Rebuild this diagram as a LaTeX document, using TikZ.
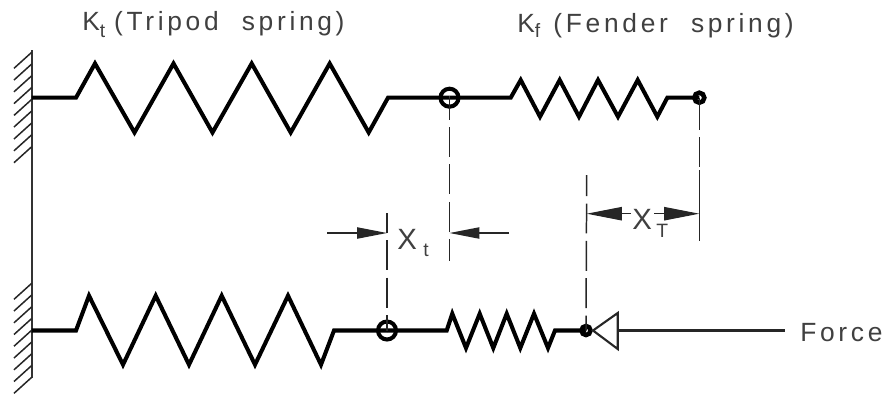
\documentclass[tikz,border=0pt]{standalone}
\usepackage{fontspec}
\setmainfont{Liberation Sans}[LetterSpace=14,WordSpace=2.1]
\usetikzlibrary{arrows.meta}
\tikzset{
	thinline/.style={line width=0.85pt, color=black!85},
	dimline/.style={line width=0.7pt, color=black!85, -{Triangle[length=17pt,width=6.4pt]}},
	bigdimline/.style={line width=0.7pt, color=black!85, -{Triangle[length=20pt,width=7.6pt]}},
	springline/.style={line width=2.3pt, line join=miter},
	dashline/.style={thinline, dash pattern=on 17pt off 4.25pt},
	label/.style={inner sep=0pt, color=black!75, font=\fontsize{15}{15}\selectfont, anchor=base west},
	biglabel/.style={inner sep=0pt, color=black!75, font=\fontsize{16.7}{16.7}\selectfont, anchor=base west},
	sublabel/.style={inner sep=0pt, color=black!75, font=\fontsize{11}{11}\selectfont, anchor=base west}
}
\begin{document}
\begin{tikzpicture}[x=0.02cm, y=-0.02cm]
	%%%%% START %%%%%
	\useasboundingbox (0, 0) rectangle (888, 393);
	
	% wall
	\draw[line width=1.2pt, color=black!80] (31.7, 50) -- (31.7, 378);
	\foreach \ypos in {52.3, 64, 75.8, 87.6, 99.4, 111, 123, 134.8, 146.7} {
		\draw[thinline] (31.7, \ypos) -- (14, \ypos+16);
	}
	\foreach \ypos in {283.3, 295, 306.8, 318.5, 330.2, 342, 353.8, 365.5, 377.3} {
		\draw[thinline] (31.7, \ypos) -- (14, \ypos+16);
	}
	
	% top row
	\coordinate (walltop) at (31.7, 97.7);
	\coordinate (jointtop) at (449.5, 97.7);
	\coordinate (endtop) at (699.3, 97.7);
	\draw[springline] (walltop) -- (76, 97.7) -- (95, 63.5) -- (134.5, 132.5) -- (173.5, 63.5) -- (212.5, 132.5)
		-- (251.7, 63.5) -- (290.7, 132.5) -- (329.7, 63.5) -- (368.7, 132.5) -- (388, 97.7) -- (jointtop);
	\draw[springline] (jointtop) -- (510.7, 97.7) -- (520.7, 80) -- (540, 116.7) -- (559.7, 80) -- (579, 116.7)
		-- (598, 80) -- (618, 116.7) -- (637.7, 80) -- (657.3, 116.7) -- (667.3, 97.7) -- (endtop);
	\draw[springline] (jointtop) circle (9);
	\draw[line width=2.6pt] (endtop) circle (5);
	
	% bottom row
	\coordinate (wallbot) at (31.7, 330.5);
	\coordinate (jointbot) at (387, 330.5);
	\coordinate (endbot) at (586, 330.5);
	\draw[springline] (wallbot) -- (76, 330.5) -- (89, 295.7) -- (123, 364.7) -- (155.7, 295.7) -- (189, 364.7)
		-- (221.7, 295.7) -- (255, 364.7) -- (288, 295.7) -- (321, 364.7) -- (334, 330.5) -- (jointbot);
	\draw[springline] (jointbot) -- (446.7, 330.5) -- (452.3, 313.7) -- (466, 348) -- (479.7, 313.7) -- (493.3, 348)
		-- (506.7, 313.7) -- (520.3, 348) -- (534, 313.7) -- (548, 348) -- (555, 330.5) -- (endbot);
	\draw[springline] (jointbot) circle (9);
	\draw[line width=2.6pt] (endbot) circle (4.5);
	
	% force
	\coordinate (forcetip) at (593, 330.5);
	\coordinate (forceend) at (784.7, 330.5);
	\draw[line width=1.2pt, color=black!85] (forcetip) -- (617.7, 313) -- (617.7, 349) -- cycle;
	\draw[line width=1.2pt, color=black!85] (617.7, 330.5) -- (forceend);
	\node[label] (forcelabel) at (800, 341) {Force};
	
	% extension lines
	\draw[dashline, dash phase=4.5pt] (jointtop) -- (449.5, 261);
	\draw[thinline, dash pattern=on 18.4pt off 4pt on 17pt off 1.7pt on 41pt] (endtop) -- (699.3, 241);
	\draw[dashline, dash phase=5.7pt] (387, 213) -- (jointbot);
	\draw[dashline, dash phase=5pt] (586.7, 175) -- (endbot);
	
	% dimensions
	\draw[dimline] (327.3, 233) -- (387, 233);
	\draw[dimline] (509, 233) -- (449.5, 233);
	\draw[bigdimline] (631, 213.7) -- (586.7, 213.7);
	\draw[bigdimline] (654, 213.7) -- (699.3, 213.7);
	
	% labels
	\node[label] (tripodlabel) at (82, 30) {K\raisebox{-0.3em}{\fontsize{11}{11}\selectfont t}\kern5pt(Tripod spring)};
	\node[label] (fenderlabel) at (517, 32) {K\raisebox{-0.2em}{\fontsize{11}{11}\selectfont f}\kern7.5pt(Fender spring)};
	\node[biglabel] (xtlabel) at (397, 249) {X};
	\node[sublabel] (xtsub) at (423, 256) {t};
	\node[biglabel] (xTlabel) at (632, 229) {X};
	\node[sublabel] (xTsub) at (656, 237) {T};
	
	%%%%% END %%%%%
\end{tikzpicture}
\end{document}
